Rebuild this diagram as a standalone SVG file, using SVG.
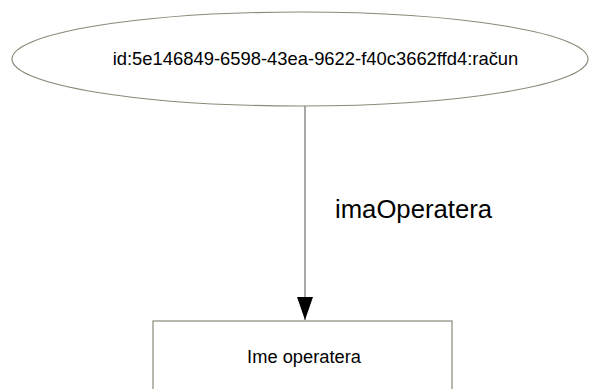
<svg xmlns="http://www.w3.org/2000/svg" width="590" height="389" viewBox="0 0 590 389">
<style>
.lbl{font-family:"Liberation Sans",Arial,sans-serif;fill:#000;}
.node{fill:#fff;stroke:#8a8a7a;stroke-width:1.2;}
.edge{stroke:#707070;stroke-width:1.2;fill:none;}
</style>
<defs>
<marker id="arr" markerWidth="23" markerHeight="16" refX="23" refY="8" orient="auto" markerUnits="userSpaceOnUse" viewBox="0 0 23 16">
<path d="M0,0 L23,8 L0,16 Z" fill="#000"/>
</marker>
</defs>
<rect width="590" height="389" fill="#fff"/>
<g id="connectors">
<line class="edge" x1="305" y1="106" x2="305" y2="320" marker-end="url(#arr)"/>
<text class="lbl" x="335" y="218" font-size="25.7">imaOperatera</text>
</g>
<g id="node-racun">
<ellipse class="node" cx="300" cy="59" rx="288" ry="47"/>
<text class="lbl" x="315.5" y="65" font-size="18.4" text-anchor="middle">id:5e146849-6598-43ea-9622-f40c3662ffd4:račun</text>
</g>
<g id="node-ime">
<rect class="node" x="153" y="321" width="299" height="90"/>
<text class="lbl" x="304" y="363" font-size="18.3" text-anchor="middle">Ime operatera</text>
</g>
</svg>
